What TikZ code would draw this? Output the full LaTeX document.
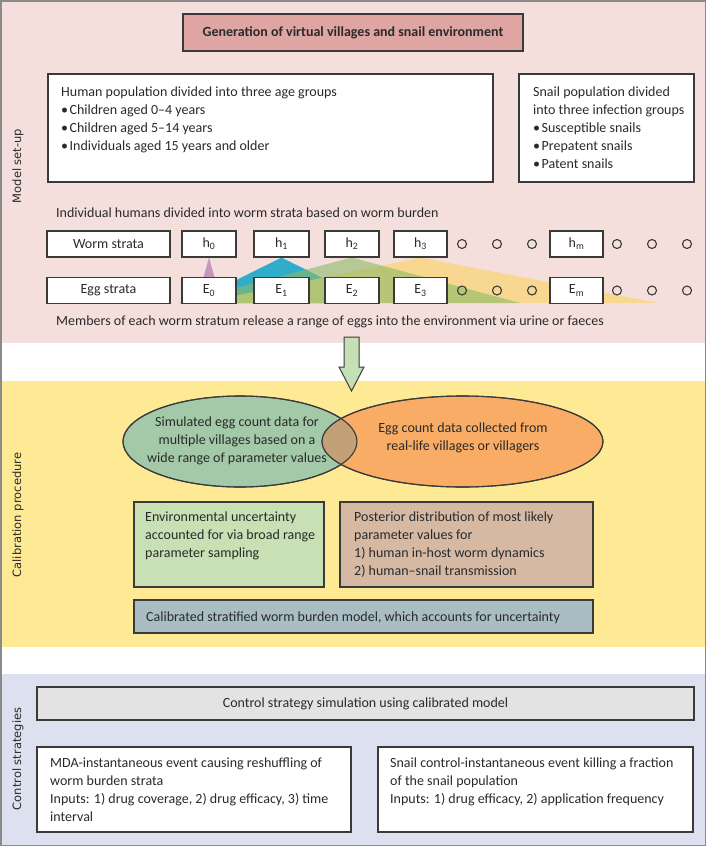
\documentclass[tikz,border=0pt]{standalone}
\usepackage{fontspec}
\setmainfont{Carlito}
\newfontfamily\sidefont{DejaVu Sans}
\usetikzlibrary{shapes.geometric}
\pgfdeclarelayer{bg}
\pgfdeclarelayer{tri}
\pgfsetlayers{bg,tri,main}
\definecolor{pinkbg}{HTML}{F5DFDC}
\definecolor{yellowbg}{HTML}{FEE995}
\definecolor{bluebg}{HTML}{DDE0EF}
\definecolor{titlefill}{HTML}{DFA5A2}
\definecolor{linec}{HTML}{3A3A3A}
\definecolor{ellg}{HTML}{A3C9A8}
\definecolor{ello}{HTML}{F8AC65}
\definecolor{ellov}{HTML}{C4A076}
\definecolor{boxg}{HTML}{C8E0B4}
\definecolor{boxb}{HTML}{D6B9A3}
\definecolor{boxc}{HTML}{A9BEC4}
\definecolor{boxgrey}{HTML}{E3E3E3}
\definecolor{arrowg}{HTML}{C5E0B4}
\definecolor{triblue}{HTML}{2FADCB}
\definecolor{trigreen}{HTML}{8DBA66}
\definecolor{triyellow}{HTML}{F9D888}
\definecolor{tripink}{HTML}{C596BE}
\definecolor{framec}{HTML}{8A8A8A}
\definecolor{textc}{HTML}{2A2A2A}
\newcommand{\toptext}[1]{\begin{tabular}[t]{@{}l@{}}#1\end{tabular}}
\newcommand{\toptextc}[1]{\begin{tabular}[t]{@{}c@{}}#1\end{tabular}}
\newcommand{\bul}{•\hspace{1.5pt}}
\begin{document}
\begin{tikzpicture}[x=1pt,y=-1pt,
  txt/.style={font=\fontsize{14}{18}\selectfont, text=textc, inner sep=0pt},
  bx/.style={draw=linec, line width=1.1pt, inner sep=0pt},
  sbox/.style={bx, fill=white, minimum height=26pt, txt},
  odot/.style={circle, draw=linec, line width=1.1pt, minimum size=9pt, inner sep=0pt},
  side/.style={font=\sidefont\fontsize{11.5}{13}\selectfont, text=textc, inner sep=0pt, rotate=90},
  ell/.style={ellipse, draw=linec, line width=1.1pt, inner sep=0pt, minimum height=91pt}]
\useasboundingbox (0,0) rectangle (706,846);
\begin{pgfonlayer}{bg}
\fill[pinkbg] (0,0) rectangle (706,343);
\fill[yellowbg] (0,381) rectangle (706,647);
\fill[bluebg] (0,674) rectangle (706,846);
\end{pgfonlayer}
\draw[framec, line width=1.5pt] (0.75,0.75) rectangle (705.25,845.25);
% side labels
\node[side] (lab1) at (18,166) {Model set-up};
\node[side] (lab2) at (18,515) {Calibration procedure};
\node[side] (lab3) at (18,759) {Control strategies};
% model set-up
\node[bx, fill=titlefill, minimum width=340pt, minimum height=37pt, txt, font=\fontsize{14}{18}\selectfont\bfseries] (title) at (353,32.5) {Generation of virtual villages and snail environment};
\node[bx, fill=white, minimum width=445pt, minimum height=108pt] (human) at (270.5,128) {};
\node[txt, anchor=base west] (humantxt) at (61,96) {\toptext{Human population divided into three age groups\\\bul Children aged 0–4 years\\\bul Children aged 5–14 years\\\bul Individuals aged 15 years and older}};
\node[bx, fill=white, minimum width=175pt, minimum height=108pt] (snail) at (606.5,128) {};
\node[txt, anchor=base west] (snailtxt) at (533,96) {\toptext{Snail population divided\\into three infection groups\\\bul Susceptible snails\\\bul Prepatent snails\\\bul Patent snails}};
\node[txt, anchor=base west] (indiv) at (56,217) {Individual humans divided into worm strata based on worm burden};
% strata
\node[sbox, minimum width=123pt] (wl) at (108.5,244) {Worm strata};
\node[sbox, minimum width=54pt] (h0) at (209,244) {h\textsubscript{0}};
\node[sbox, minimum width=55pt] (h1) at (281.5,244) {h\textsubscript{1}};
\node[sbox, minimum width=54pt] (h2) at (352,244) {h\textsubscript{2}};
\node[sbox, minimum width=53pt] (h3) at (420.5,244) {h\textsubscript{3}};
\node[sbox, minimum width=53pt] (hm) at (576.5,244) {h\textsubscript{m}};
\node[sbox, minimum width=123pt] (el) at (108.5,290.5) {Egg strata};
\node[sbox, minimum width=54pt] (e0) at (209,290.5) {E\textsubscript{0}};
\node[sbox, minimum width=55pt] (e1) at (281.5,290.5) {E\textsubscript{1}};
\node[sbox, minimum width=54pt] (e2) at (352,290.5) {E\textsubscript{2}};
\node[sbox, minimum width=53pt] (e3) at (420.5,290.5) {E\textsubscript{3}};
\node[sbox, minimum width=53pt] (em) at (576.5,290.5) {E\textsubscript{m}};
\foreach \i/\x in {1/462,2/497,3/532,4/617,5/652,6/687}{
  \node[odot] (wc\i) at (\x,244) {};
  \node[odot] (ec\i) at (\x,290.5) {};
}
\coordinate (ybl) at (200,303);
\coordinate (ybr) at (658,303);
\coordinate (gbl) at (178,303);
\coordinate (gbr) at (520,303);
\coordinate (bbl) at (190,303);
\coordinate (bbr) at (373,303);
\coordinate (pbl) at (201,286);
\coordinate (pbr) at (217,286);
\begin{pgfonlayer}{tri}
\fill[triblue] (h1.south) -- (bbl) -- (bbr) -- cycle;
\fill[triyellow, fill opacity=0.9] (h3.south) -- (ybl) -- (ybr) -- cycle;
\fill[trigreen, fill opacity=0.6] (h2.south) -- (gbl) -- (gbr) -- cycle;
\fill[tripink] (h0.south) -- (pbl) -- (pbr) -- cycle;
\end{pgfonlayer}
\node[txt, anchor=base west] (members) at (56,325) {Members of each worm stratum release a range of eggs into the environment via urine or faeces};
% arrow
\draw[linec, fill=arrowg, line width=1pt] (344,337) -- (359,337) -- (359,367) -- (364,367) -- (351.5,391) -- (339,367) -- (344,367) -- cycle;
% calibration
\node[ell, fill=ellg, minimum width=234pt] (sim) at (240,441.5) {};
\node[ell, fill=ello, minimum width=281pt] (real) at (462.5,441.5) {};
\begin{scope}
\clip (sim.center) ellipse [x radius=117pt, y radius=45.5pt];
\fill[ellov] (real.center) ellipse [x radius=140.5pt, y radius=45.5pt];
\end{scope}
\draw[linec, line width=1.1pt] (sim.center) ellipse [x radius=117pt, y radius=45.5pt];
\draw[linec, line width=1.1pt] (real.center) ellipse [x radius=140.5pt, y radius=45.5pt];
\node[txt, anchor=base] (simtxt) at (237,426) {\toptextc{Simulated egg count data for\\multiple villages based on a\\wide range of parameter values}};
\node[txt, anchor=base] (realtxt) at (463,432) {\toptextc{Egg count data collected from\\real-life villages or villagers}};
\node[bx, fill=boxg, minimum width=190pt, minimum height=85pt] (env) at (229,544.5) {};
\node[txt, anchor=base west] (envtxt) at (145,521) {\toptext{Environmental uncertainty\\accounted for via broad range\\parameter sampling}};
\node[bx, fill=boxb, minimum width=253pt, minimum height=85pt] (post) at (466.5,544.5) {};
\node[txt, anchor=base west] (posttxt) at (354,521) {\toptext{Posterior distribution of most likely\\parameter values for\\1) human in-host worm dynamics\\2) human–snail transmission}};
\node[bx, fill=boxc, minimum width=459pt, minimum height=33pt] (calib) at (363.5,616.5) {};
\node[txt, anchor=base west] (calibtxt) at (146,621) {Calibrated stratified worm burden model, which accounts for uncertainty};
% control strategies
\node[bx, fill=boxgrey, minimum width=657pt, minimum height=33pt, txt] (ctrl) at (365.5,703.5) {Control strategy simulation using calibrated model};
\node[bx, fill=white, minimum width=314pt, minimum height=85pt] (mda) at (194,789.5) {};
\node[txt, anchor=base west] (mdatxt) at (50,767) {\toptext{MDA-instantaneous event causing reshuffling of\\worm burden strata\\Inputs: 1) drug coverage, 2) drug efficacy, 3) time\\interval}};
\node[bx, fill=white, minimum width=315pt, minimum height=85pt] (sc) at (535.5,789.5) {};
\node[txt, anchor=base west] (sctxt) at (390,767) {\toptext{Snail control-instantaneous event killing a fraction\\of the snail population\\Inputs: 1) drug efficacy, 2) application frequency}};
\end{tikzpicture}
\end{document}
